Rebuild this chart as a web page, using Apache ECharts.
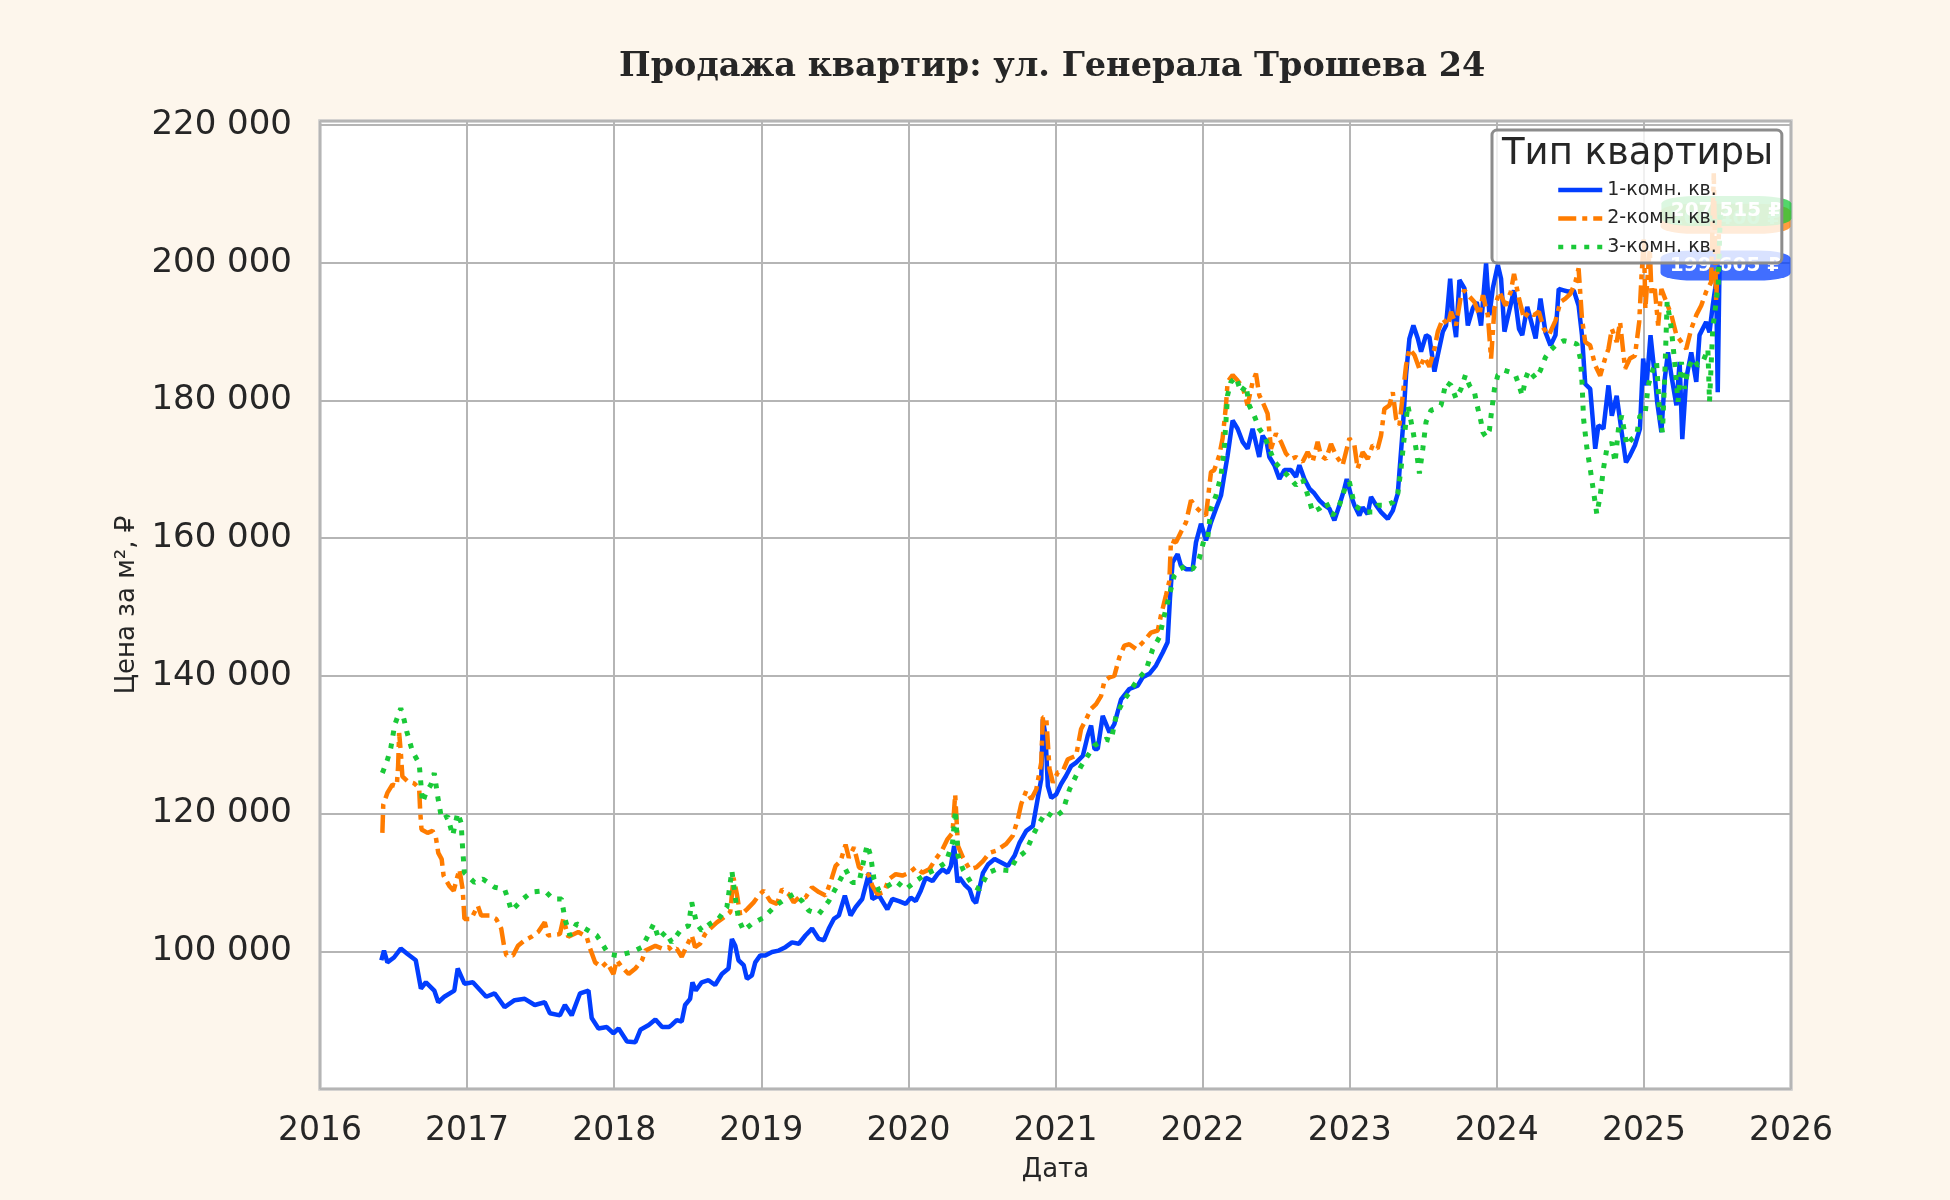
<!DOCTYPE html>
<html>
<head>
<meta charset="utf-8">
<title>Продажа квартир</title>
<script src="https://cdn.jsdelivr.net/npm/echarts@6/dist/echarts.min.js"></script>
<style>
	html, body { margin: 0; padding: 0; background: #fdf6ec; }
	#chart { width: 1950px; height: 1200px; }
</style>
</head>
<body>
<div id="chart"></div>
<script>
// даты (доля года) и цены за м² по типам квартир
var dates1 = [2016.417,2016.435,2016.458,2016.503,2016.549,2016.595,2016.651,2016.686,2016.720,2016.777,2016.804,2016.845,2016.913,2016.936,2016.982,
	2017.039,2017.130,2017.187,2017.255,2017.323,2017.392,2017.460,2017.528,2017.563,2017.631,2017.665,2017.711,2017.768,2017.825,2017.847,2017.893,2017.950,2017.995,
	2018.030,2018.087,2018.144,2018.178,2018.235,2018.280,2018.326,2018.371,2018.391,2018.425,2018.459,2018.482,2018.516,2018.532,2018.555,2018.595,2018.641,2018.686,2018.732,2018.777,2018.800,2018.823,2018.845,2018.880,2018.902,2018.936,2018.959,2018.993,
	2019.027,2019.073,2019.118,2019.164,2019.209,2019.255,2019.300,2019.345,2019.391,2019.425,2019.459,2019.493,2019.527,2019.568,2019.607,2019.641,2019.686,2019.732,2019.755,2019.800,2019.857,2019.891,2019.936,2019.982,
	2020.016,2020.050,2020.084,2020.118,2020.164,2020.198,2020.232,2020.266,2020.289,2020.311,2020.334,2020.348,2020.382,2020.416,2020.440,2020.460,2020.507,2020.541,2020.586,2020.631,2020.676,2020.722,2020.756,2020.801,2020.846,2020.880,2020.903,2020.914,2020.932,2020.948,2020.971,
	2021.005,2021.038,2021.072,2021.106,2021.140,2021.186,2021.219,2021.242,2021.265,2021.287,2021.321,2021.367,2021.400,2021.446,2021.502,2021.559,2021.593,2021.638,2021.683,2021.729,2021.762,2021.778,2021.796,2021.830,2021.853,2021.887,2021.932,2021.955,2021.989,
	2022.023,2022.057,2022.091,2022.125,2022.147,2022.170,2022.204,2022.238,2022.272,2022.306,2022.340,2022.385,2022.408,2022.435,2022.454,2022.488,2022.522,2022.556,2022.601,2022.635,2022.658,2022.692,2022.726,2022.760,2022.794,2022.828,2022.862,2022.896,2022.930,2022.964,2022.980,
	2023.009,2023.032,2023.066,2023.088,2023.122,2023.145,2023.179,2023.213,2023.259,2023.293,2023.327,2023.338,2023.361,2023.383,2023.406,2023.433,2023.463,2023.485,2023.519,2023.542,2023.576,2023.599,2023.633,2023.655,2023.683,2023.701,2023.723,2023.746,2023.780,2023.803,2023.837,2023.864,2023.893,2023.927,2023.950,2023.973,
	2024.007,2024.029,2024.052,2024.083,2024.117,2024.151,2024.173,2024.207,2024.241,2024.264,2024.297,2024.331,2024.365,2024.399,2024.421,2024.455,2024.489,2024.523,2024.556,2024.579,2024.601,2024.635,2024.669,2024.691,2024.725,2024.759,2024.782,2024.815,2024.849,2024.878,2024.905,2024.939,2024.973,2024.995,
	2025.018,2025.045,2025.074,2025.090,2025.119,2025.142,2025.164,2025.187,2025.221,2025.243,2025.261,2025.288,2025.322,2025.356,2025.378,2025.423,2025.446,2025.468,2025.491,2025.502,2025.514];
var prices1 = [98700,100100,98400,99100,100400,99600,98700,94600,95500,94300,92600,93400,94300,97500,95300,
	95500,93400,93900,91900,92900,93100,92200,92600,91000,90700,92200,90700,93900,94300,90300,88800,89000,88100,
	88800,86900,86800,88600,89300,90100,89000,89000,89300,90000,89800,92200,93100,95500,94300,95500,95800,95100,96700,97500,101800,100800,98700,98000,96000,96500,98400,99400,
	99400,99900,100100,100600,101300,101100,102300,103300,101800,101600,103300,104700,105200,108100,105200,106400,107600,111400,107600,108100,106100,107600,107300,106900,
	107800,107300,108800,110700,110200,111200,111900,111400,112400,115300,110000,110700,109700,109000,107500,107000,111400,112600,113400,112900,112400,113900,115800,117500,118200,122300,125000,133700,131300,124000,122300,
	122800,124300,125500,126900,127400,128400,131300,132800,129400,129400,134200,131800,133000,136600,138100,138600,139800,140300,141500,143400,144900,151200,156500,157700,156000,155500,155500,159400,162100,
	159700,162300,164300,166200,169100,172000,177100,175900,174000,173000,175900,171800,174900,174000,171800,170600,168600,169900,169900,168900,170600,168600,167200,166500,165500,164800,164300,162600,164800,167200,168600,
	166200,164800,163300,164500,163500,166000,164800,163800,162800,164000,166500,169600,175900,183700,189000,190900,189000,187100,189500,189200,184200,186600,190000,190900,197700,192400,189200,197500,196300,190900,193400,194300,190900,199900,192400,196300,
	199700,197700,190000,192900,196000,190400,189500,193600,190900,189000,194800,189900,188000,189500,196200,196000,195800,196000,193800,189500,182400,181700,173000,176400,175900,182200,177800,180700,175400,171000,172000,173500,175900,186100,
	182200,189500,183600,179800,175400,183200,187000,183600,179300,185600,174400,183200,187000,182700,189500,191400,189900,193800,197200,181200,199605];

var dates2 = [2016.424,2016.430,2016.458,2016.492,2016.522,2016.531,2016.538,2016.549,2016.560,2016.595,2016.640,2016.674,2016.681,2016.690,2016.731,2016.765,2016.788,2016.804,2016.827,2016.840,2016.879,2016.909,2016.932,2016.948,2016.970,2016.982,
	2017.027,2017.073,2017.096,2017.153,2017.198,2017.232,2017.251,2017.267,2017.312,2017.346,2017.392,2017.437,2017.483,2017.528,2017.551,2017.631,2017.654,2017.688,2017.756,2017.813,2017.836,2017.870,2017.915,2017.950,2017.995,
	2018.018,2018.052,2018.098,2018.144,2018.189,2018.212,2018.280,2018.326,2018.371,2018.391,2018.425,2018.459,2018.493,2018.527,2018.550,2018.584,2018.618,2018.652,2018.698,2018.743,2018.789,2018.811,2018.834,2018.857,2018.902,2018.948,2018.982,
	2019.016,2019.061,2019.107,2019.141,2019.186,2019.220,2019.255,2019.300,2019.345,2019.391,2019.436,2019.470,2019.505,2019.539,2019.573,2019.595,2019.630,2019.664,2019.698,2019.732,2019.755,2019.789,2019.834,2019.868,2019.914,2019.959,
	2020.005,2020.050,2020.095,2020.141,2020.186,2020.232,2020.266,2020.300,2020.318,2020.337,2020.371,2020.416,2020.462,2020.507,2020.552,2020.597,2020.665,2020.710,2020.744,2020.767,2020.801,2020.835,2020.869,2020.903,2020.914,2020.937,2020.959,2020.982,
	2021.016,2021.050,2021.084,2021.140,2021.174,2021.208,2021.242,2021.276,2021.310,2021.333,2021.367,2021.400,2021.434,2021.468,2021.502,2021.548,2021.604,2021.649,2021.695,2021.717,2021.751,2021.774,2021.785,2021.819,2021.853,2021.887,2021.921,2021.955,2021.989,
	2022.023,2022.057,2022.079,2022.113,2022.136,2022.159,2022.170,2022.204,2022.238,2022.272,2022.306,2022.340,2022.363,2022.385,2022.408,2022.442,2022.465,2022.499,2022.533,2022.567,2022.601,2022.635,2022.680,2022.714,2022.748,2022.782,2022.805,2022.839,2022.873,2022.907,2022.952,2022.998,
	2023.032,2023.054,2023.088,2023.122,2023.156,2023.190,2023.213,2023.236,2023.270,2023.293,2023.315,2023.338,2023.361,2023.383,2023.406,2023.440,2023.474,2023.508,2023.542,2023.576,2023.599,2023.633,2023.667,2023.689,2023.723,2023.757,2023.780,2023.814,2023.848,2023.882,2023.905,2023.939,2023.961,2023.984,
	2024.018,2024.052,2024.061,2024.095,2024.117,2024.151,2024.185,2024.218,2024.252,2024.286,2024.320,2024.354,2024.399,2024.432,2024.466,2024.500,2024.534,2024.556,2024.579,2024.601,2024.635,2024.669,2024.703,2024.736,2024.759,2024.782,2024.815,2024.838,2024.872,2024.905,2024.939,2024.968,2024.984,
	2025.000,2025.010,2025.029,2025.040,2025.052,2025.074,2025.097,2025.119,2025.153,2025.187,2025.221,2025.255,2025.288,2025.322,2025.356,2025.390,2025.423,2025.457,2025.475,2025.491,2025.514];
var prices2 = [117200,121300,123000,124200,124000,126900,131700,129000,125400,124700,124400,123700,120400,117700,117200,117500,116500,114300,113400,111000,109500,108800,110700,111900,109000,104700,
	104700,106600,105200,105200,104700,103300,100800,99400,99400,100800,101600,102100,102800,104200,102300,102500,104700,102100,102800,102100,100400,98400,97700,98400,96700,
	98700,97700,96700,97500,98700,100100,100800,100400,100600,100100,100400,99200,100800,102300,100600,101100,102500,103300,104200,104900,105700,110700,108300,105200,106100,107100,108100,
	108800,107300,106900,109000,108300,107100,107800,107800,109300,108600,108100,110000,112400,113100,115500,113600,115100,112200,111900,111000,109500,108300,108600,110500,111200,111000,
	111400,112200,111400,111900,113400,114800,116300,117200,122800,115300,113600,111900,112200,113100,114300,114600,115600,116800,119200,121400,123300,122100,123500,127400,134000,134000,126500,124500,
	126000,126200,127900,128400,132300,133700,135200,135900,137100,139300,139800,140000,142700,144400,144600,143900,145100,146300,146600,148800,151700,153800,159700,159400,160900,162300,165500,164500,163800,
	163300,169600,169900,172000,174500,179300,182700,183700,182900,182000,179300,182700,183900,180800,179800,178100,173000,175200,174000,172300,171500,171800,171100,172500,171100,174000,172000,171500,173700,172000,170600,174500,
	173500,170100,172500,171500,173500,173000,174900,178800,179300,181200,177400,176400,180800,185100,187500,186600,184600,186300,184900,187500,190000,191900,190900,192900,190900,195300,196000,195100,194300,192400,195300,192400,186100,193400,
	195800,194100,193800,195800,198400,194800,191900,192900,192400,192900,190400,189500,191600,194300,194800,195500,197200,199200,191900,188500,188000,185100,183600,186100,187500,190400,188500,191400,184600,186100,186500,191400,198200,
	203500,193300,199200,202000,195300,196200,190900,196200,194300,192400,189500,188500,187500,190400,192400,193800,195800,197200,213000,194300,206400];

var dates3 = [2016.424,2016.458,2016.481,2016.508,2016.549,2016.572,2016.590,2016.629,2016.674,2016.697,2016.720,2016.754,2016.777,2016.800,2016.827,2016.868,2016.902,2016.936,2016.959,2016.970,2016.982,
	2017.050,2017.107,2017.187,2017.255,2017.278,2017.301,2017.380,2017.437,2017.528,2017.585,2017.642,2017.665,2017.699,2017.745,2017.802,2017.881,2017.927,2017.961,
	2018.018,2018.064,2018.121,2018.189,2018.235,2018.269,2018.303,2018.349,2018.391,2018.459,2018.505,2018.527,2018.561,2018.595,2018.652,2018.709,2018.766,2018.800,2018.823,2018.845,2018.880,2018.936,
	2019.016,2019.095,2019.164,2019.220,2019.277,2019.323,2019.391,2019.459,2019.527,2019.573,2019.618,2019.664,2019.720,2019.743,2019.766,2019.800,2019.845,2019.914,2019.982,
	2020.050,2020.118,2020.186,2020.255,2020.300,2020.320,2020.337,2020.371,2020.439,2020.484,2020.541,2020.597,2020.688,2020.733,2020.801,2020.846,2020.891,2020.937,2020.993,
	2021.050,2021.095,2021.140,2021.174,2021.219,2021.265,2021.299,2021.344,2021.378,2021.412,2021.457,2021.502,2021.559,2021.615,2021.661,2021.706,2021.740,2021.774,2021.808,2021.842,2021.887,2021.932,2021.977,
	2022.011,2022.034,2022.057,2022.091,2022.125,2022.147,2022.170,2022.193,2022.227,2022.261,2022.295,2022.317,2022.351,2022.385,2022.420,2022.454,2022.488,2022.533,2022.578,2022.635,2022.680,2022.726,2022.748,2022.794,2022.839,2022.884,2022.930,2022.975,2022.998,
	2023.032,2023.066,2023.111,2023.156,2023.190,2023.247,2023.293,2023.327,2023.349,2023.372,2023.395,2023.429,2023.451,2023.474,2023.497,2023.519,2023.553,2023.587,2023.621,2023.655,2023.689,2023.723,2023.757,2023.787,2023.814,2023.848,2023.864,2023.893,2023.905,2023.927,2023.950,2023.961,2023.984,
	2024.007,2024.050,2024.095,2024.128,2024.151,2024.173,2024.196,2024.218,2024.264,2024.297,2024.331,2024.365,2024.399,2024.455,2024.500,2024.545,2024.568,2024.579,2024.590,2024.613,2024.635,2024.658,2024.680,2024.703,2024.725,2024.748,2024.782,2024.804,2024.827,2024.849,2024.883,2024.917,2024.950,2024.973,
	2025.007,2025.029,2025.063,2025.086,2025.108,2025.126,2025.142,2025.158,2025.187,2025.209,2025.232,2025.255,2025.277,2025.300,2025.333,2025.367,2025.401,2025.435,2025.446,2025.468,2025.491,2025.505,2025.520];
var prices3 = [125900,127800,129500,132900,135300,133600,131900,129000,127300,121600,123000,124200,125900,122500,119200,119600,116800,120100,118700,114800,111400,
	110000,110500,109300,109000,107600,105900,107600,108600,108800,107600,107600,104700,102300,104000,103300,102300,100800,99600,
	99400,99600,99900,100600,102500,104000,101800,102800,101300,103300,103700,107100,104000,103000,104000,104700,106400,111700,107800,104700,103000,104000,
	104900,106600,107600,108300,107300,105900,105400,107300,110000,111900,110000,110000,115500,113900,110500,108800,109300,110200,109000,
	110200,111200,111900,112900,115800,120500,113900,111900,109500,109000,111400,111900,111700,113400,114600,116800,118700,120200,119400,
	120400,123500,125500,126900,128400,129900,130300,130800,130600,134200,136200,137600,139500,140800,143900,145600,148800,151700,154600,155500,156000,155500,157000,
	159900,159900,164300,166200,169100,173000,180800,182700,183400,181200,182200,179300,177800,175900,174900,173000,171100,170100,169100,167700,168600,165500,163800,164300,165200,163300,164800,167700,168200,
	164800,164300,163800,163800,164800,164800,165200,166500,170100,174900,179300,175700,173000,169400,173000,176900,178600,178800,179300,182700,182200,180300,181700,183700,182200,181200,179500,176900,175400,174700,175700,177800,181700,
	183700,184400,184100,183600,182200,180700,183200,184400,183200,184400,186300,187300,188000,188700,188500,188200,186100,182700,177300,173000,170100,166700,163500,166200,170100,173000,173900,171000,175900,177800,173500,174400,174900,177800,
	177800,182200,184600,185600,177800,175400,183600,194300,190400,185600,179800,185600,181700,184600,186100,185100,185600,187500,179800,190400,194300,196700,207515];

// подписи типов квартир
var seriesNames = ['1-комн. кв.', '2-комн. кв.', '3-комн. кв.'];
var seriesColors = ['#023eff', '#ff7c00', '#1ac938'];
var labelColors = ['rgba(2,62,255,0.75)', 'rgba(255,124,0,0.75)', 'rgba(26,201,56,0.75)'];

var textColor = '#262626';

function fmtNum(v) {
	return String(Math.round(v)).replace(/\B(?=(\d{3})+(?!\d))/g, ' ');
}

function toPairs(xs, ys) {
	var res = [];
	for (var i = 0; i < xs.length; i++) {
		res.push([xs[i], ys[i]]);
	}
	return res;
}

function buildSeries(idx, xs, ys, lineStyle, labelZ) {
	var last = xs.length - 1;
	return {
		name: seriesNames[idx],
		type: 'line',
		data: toPairs(xs, ys),
		showSymbol: false,
		symbol: 'none',
		lineStyle: lineStyle,
		itemStyle: { color: seriesColors[idx] },
		markPoint: {
			z: labelZ,
			silent: true,
			symbol: 'roundRect',
			symbolSize: [130, 30],
			symbolOffset: [6, 0],
			itemStyle: { color: labelColors[idx], borderWidth: 0 },
			label: {
				show: true,
				position: 'inside',
				color: '#ffffff',
				fontFamily: 'DejaVu Sans',
				fontWeight: 'bold',
				fontSize: 20,
				formatter: function(p) {
					return fmtNum(p.value) + ' ₽';
				}
			},
			data: [{ coord: [xs[last], ys[last]], value: ys[last] }]
		}
	};
}

var myChart = echarts.init(document.getElementById('chart'));
var option = {
	animation: false,
	backgroundColor: '#fdf6ec',
	title: [{
		text: 'Продажа квартир: ул. Генерала Трошева 24',
		left: 619,
		top: 50,
		padding: 0,
		textStyle: { fontFamily: 'DejaVu Serif', fontWeight: 'bold', fontSize: 33.5, color: textColor }
	}, {
		// заголовок легенды
		text: 'Тип квартиры',
		left: 1502,
		top: 136,
		padding: 0,
		z: 11,
		textStyle: { fontFamily: 'DejaVu Sans', fontWeight: 'normal', fontSize: 37, color: textColor }
	}],
	legend: {
		z: 10,
		orient: 'vertical',
		left: 1492,
		top: 130,
		padding: [50, 65, 6, 64],
		itemWidth: 44,
		itemHeight: 14,
		itemGap: 8.5,
		backgroundColor: 'rgba(255,255,255,0.8)',
		borderColor: '#8c8c8c',
		borderWidth: 3,
		borderRadius: 5,
		itemStyle: { opacity: 0 },
		lineStyle: { width: 4.5 },
		textStyle: { fontFamily: 'DejaVu Sans', fontSize: 19, lineHeight: 20, color: textColor },
		data: seriesNames
	},
	grid: {
		left: 320,
		right: 159,
		top: 121,
		bottom: 111,
		show: true,
		backgroundColor: '#ffffff',
		borderColor: '#c8c8c8',
		borderWidth: 3.5
	},
	xAxis: {
		type: 'value',
		min: 2016,
		max: 2026,
		interval: 1,
		name: 'Дата',
		nameLocation: 'middle',
		nameGap: 68,
		nameTextStyle: { fontFamily: 'DejaVu Sans', fontSize: 26, color: textColor },
		axisLine: { show: false },
		axisTick: { show: false },
		axisLabel: {
			fontFamily: 'DejaVu Sans', fontSize: 33, color: textColor, margin: 26,
			formatter: function(v) { return String(Math.round(v)); }
		},
		splitLine: { show: true, lineStyle: { color: '#b5b5b5', width: 2 } }
	},
	yAxis: {
		type: 'value',
		min: 80000,
		max: 220600,
		interval: 20000,
		name: 'Цена за м², ₽',
		nameLocation: 'middle',
		nameGap: 179,
		nameTextStyle: { fontFamily: 'DejaVu Sans', fontSize: 26, color: textColor },
		axisLine: { show: false },
		axisTick: { show: false },
		axisLabel: {
			fontFamily: 'DejaVu Sans', fontSize: 34, color: textColor, margin: 28,
			padding: [14, 0, 0, 0],
			formatter: function(v) {
				// 80 000 и верхняя граница без подписи
				if (v < 90000 || v % 20000 !== 0) {
					return '';
				}
				return fmtNum(v);
			}
		},
		splitLine: { show: true, lineStyle: { color: '#b5b5b5', width: 2 } }
	},
	series: [
		buildSeries(0, dates1, prices1, { color: seriesColors[0], width: 4.5 }, 3),
		buildSeries(1, dates2, prices2, { color: seriesColors[1], width: 4.5, type: [18, 6, 5, 6] }, 2),
		buildSeries(2, dates3, prices3, { color: seriesColors[2], width: 5, type: [5, 8] }, 3)
	]
};
myChart.setOption(option);
</script>
</body>
</html>
